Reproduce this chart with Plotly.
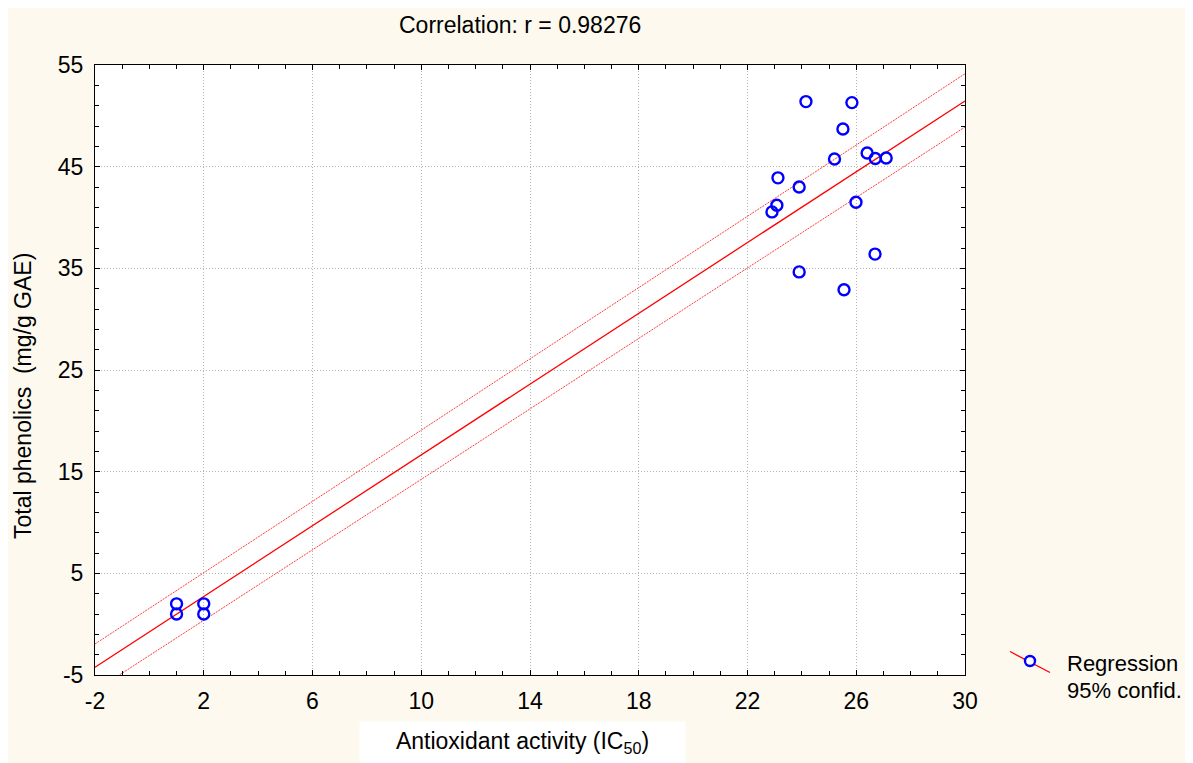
import plotly.graph_objects as go

# ---- Data ----
ic50 = [1.0, 1.0, 2.0, 2.0, 24.15, 25.84, 25.51, 25.2, 26.4, 26.7, 27.1,
        23.12, 23.9, 23.08, 22.9, 25.99, 26.69, 23.9, 25.55]
phenolics = [2.0, 1.0, 2.0, 1.0, 51.4, 51.3, 48.7, 45.76, 46.35, 45.8, 45.85,
             43.9, 43.0, 41.2, 40.55, 41.5, 36.4, 34.65, 32.9]

# regression line and 95% confidence band, read at the plot edges
fit_x = [-2.0, 30.0]
fit_y = [-4.24, 51.46]
upper_y = [-1.95, 54.14]
lower_y = [-6.55, 48.9]

x_ticks = [-2, 2, 6, 10, 14, 18, 22, 26, 30]
y_ticks = [-5, 5, 15, 25, 35, 45, 55]
title_text = "Correlation: r = 0.98276"
x_title = "Antioxidant activity (IC<sub>50</sub>)"
y_title = "Total phenolics  (mg/g GAE)"
legend_labels = ["Regression", "95% confid."]

RED = "#FF0000"
BAND = "#FF3C3C"
BLUE = "#0000FF"
FONT = "Liberation Sans, Arial, sans-serif"
FS = 23

fig = go.Figure()
fig.add_trace(go.Scatter(x=fit_x, y=upper_y, mode="lines",
                         line=dict(color=BAND, width=1, dash="2px,1px"),
                         showlegend=False))
fig.add_trace(go.Scatter(x=fit_x, y=lower_y, mode="lines",
                         line=dict(color=BAND, width=1, dash="2px,1px"),
                         showlegend=False))
fig.add_trace(go.Scatter(x=fit_x, y=fit_y, mode="lines",
                         line=dict(color=RED, width=1.3), showlegend=False))
fig.add_trace(go.Scatter(x=ic50, y=phenolics, mode="markers",
                         marker=dict(symbol="circle-open", size=11, color=BLUE,
                                     line=dict(color=BLUE, width=2.4)),
                         showlegend=False))

axis_common = dict(
    showline=True, linecolor="black", linewidth=1, mirror="allticks",
    ticks="inside", ticklen=5, tickcolor="black",
    showgrid=True, gridcolor="#B4B4B4", gridwidth=1, griddash="1px,2px",
    zeroline=False, tickfont=dict(family=FONT, size=FS, color="black"),
)

fig.update_xaxes(range=[-2, 30], tickmode="array", tickvals=x_ticks,
                 ticktext=[str(v) for v in x_ticks], ticklabelstandoff=5,
                 minor=dict(dtick=1, tick0=-2, ticks="inside", ticklen=4,
                            tickcolor="black", showgrid=False),
                 **axis_common)
fig.update_yaxes(range=[-5, 55], tickmode="array", tickvals=y_ticks,
                 ticktext=[str(v) for v in y_ticks], ticklabelstandoff=6,
                 minor=dict(dtick=2, tick0=-5, ticks="inside", ticklen=4,
                            tickcolor="black", showgrid=False),
                 **axis_common)

# the page adds an 8px body margin, so the figure starts at (8, 8)
OFF = 8
W, H = 1193 - OFF, 763 - OFF
PL, PT, PW, PH = 95, 65, 870, 610   # plot area in page pixels
L, T = PL - OFF, PT - OFF
R = W - L - PW
B = H - T - PH


def px(xp):
    return (xp - PL) / PW


def py(yp):
    return (PT + PH - yp) / PH


annotations = [
    dict(text=title_text, x=px(520), y=py(25), xref="paper", yref="paper",
         showarrow=False, xanchor="center", yanchor="middle",
         font=dict(family=FONT, size=FS, color="black")),
    dict(text=y_title, x=px(23), y=py(396), xref="paper",
         yref="paper", showarrow=False, textangle=-90, xanchor="center",
         yanchor="middle", font=dict(family=FONT, size=FS, color="black")),
    dict(text=x_title, x=px(522), y=py(742.5),
         xref="paper", yref="paper", showarrow=False, xanchor="center",
         yanchor="middle", width=325, height=41, bgcolor="white", borderpad=0,
         font=dict(family=FONT, size=FS, color="black")),
    dict(text=legend_labels[0], x=px(1065), y=py(663), xref="paper", yref="paper",
         showarrow=False, xanchor="left", yanchor="middle",
         font=dict(family=FONT, size=22, color="black")),
    dict(text=legend_labels[1], x=px(1065), y=py(690), xref="paper", yref="paper",
         showarrow=False, xanchor="left", yanchor="middle",
         font=dict(family=FONT, size=22, color="black")),
]

shapes = [
    dict(type="line", xref="paper", yref="paper", x0=px(1010), y0=py(651.5),
         x1=px(1050), y1=py(672.5), line=dict(color=RED, width=1.3)),
    dict(type="circle", xref="paper", yref="paper", x0=px(1025), y0=py(656),
         x1=px(1035), y1=py(666), line=dict(color=BLUE, width=2.4),
         fillcolor="white"),
]

fig.update_layout(
    width=W, height=H,
    margin=dict(l=L, r=R, t=T, b=B, pad=0),
    paper_bgcolor="#FDF9EE", plot_bgcolor="white",
    showlegend=False, annotations=annotations, shapes=shapes,
    font=dict(family=FONT, size=FS, color="black"),
)

fig.write_html("out.html")
